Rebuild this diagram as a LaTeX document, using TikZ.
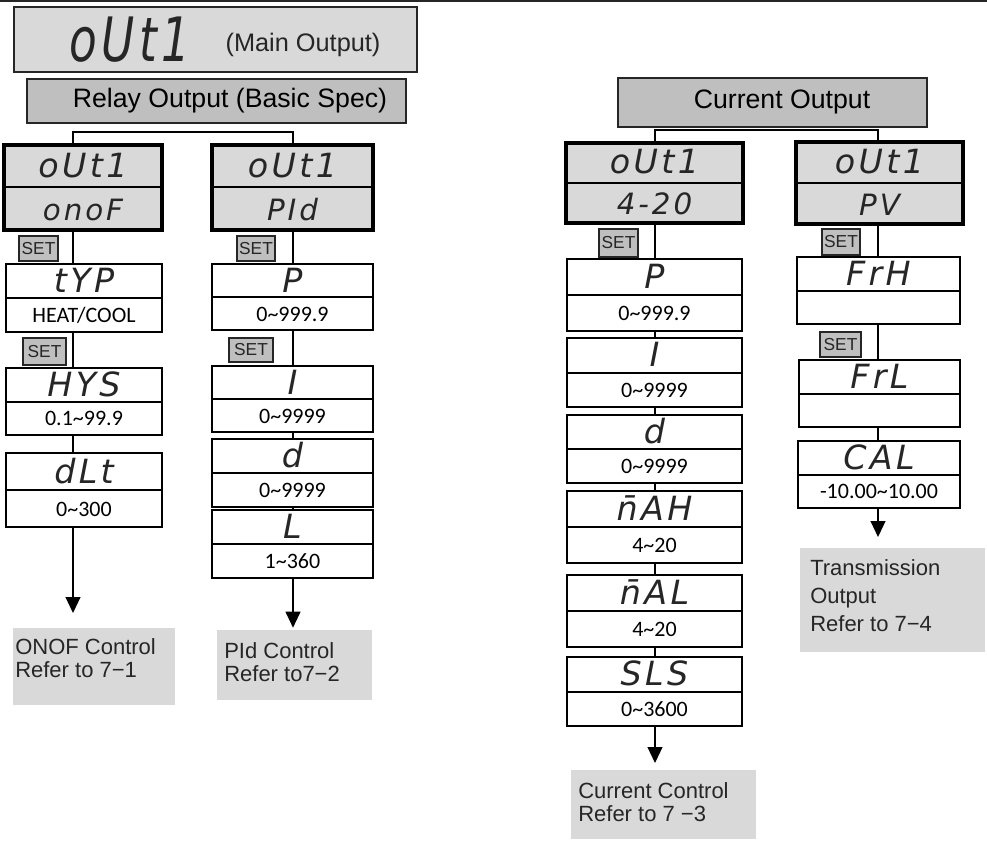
\documentclass[tikz,border=0pt]{standalone}
\usepackage{graphicx}
\usepackage{fontspec}
\setmainfont{Liberation Sans}
\newfontfamily\segfont[LetterSpace=10]{DejaVu Sans}
\newfontfamily\rngfont{Carlito}
\usetikzlibrary{arrows.meta,calc,fit}
\definecolor{panel}{HTML}{D9D9D9}
\definecolor{header}{HTML}{BFBFBF}
\definecolor{ink}{HTML}{262626}
\tikzset{
  link/.style={line width=1.5pt,black},
  flow/.style={link,-{Triangle[length=12pt,width=11pt]}},
  dispbox/.style={draw=black,line width=3pt,fill=panel,inner sep=0pt},
  parbox/.style={draw=black,line width=1.5pt,fill=white,inner sep=0pt},
  headbox/.style={draw=ink,line width=1.5pt,fill=header,inner sep=0pt},
  setkey/.style={draw=ink,line width=1.5pt,fill=header,inner sep=0pt},
  settxt/.style={inner sep=0pt,text=ink,font=\fontsize{13}{14}\selectfont},
  seg/.style={inner sep=0pt,text=ink,font=\segfont\itshape\fontsize{25}{27}\selectfont},
  seglow/.style={seg,font=\segfont\itshape\fontsize{22}{24}\selectfont},
  rangetxt/.style={inner sep=0pt,font=\rngfont\fontsize{16.5}{18}\selectfont},
  notebox/.style={fill=panel,inner sep=0pt},
  notetext/.style={inner sep=0pt,text=ink,align=left,anchor=north west,
    font=\fontsize{16.5}{17.5}\selectfont}
}
\begin{document}
\begin{tikzpicture}[x=0.75pt,y=-0.75pt]
\useasboundingbox (0,0) rectangle (987,852);
\draw[ink,line width=1.5pt] (0,1) -- (987,1);
% title and headers
\node[draw=ink,line width=2pt,fill=panel,inner sep=0pt,fit={(14,7) (417,72)}] (main) {};
\node[seg] (mainseg) at (130,40) {\scalebox{1}[1.35]{\fontsize{34}{36}\selectfont oUt1}};
\node[text=ink,font=\fontsize{19}{21}\selectfont] (maintxt) at (303,45) {(Main Output)};
\node[headbox,fit={(27,79) (406,123)}] (relay) {};
\node[font=\fontsize{20}{22}\selectfont] (relaytxt) at (230,101) {Relay Output (Basic Spec)};
\node[headbox,fit={(618,78) (927,127)}] (current) {};
\node[font=\fontsize{20}{22}\selectfont] (currenttxt) at (782,102) {Current Output};
% displays
\foreach \nm/\xa/\ya/\xb/\yb/\lo in {oof/4/145/162/230/onoF, pid/212/145/373/230/PId,
    cur/566/143/743/223/4-20, pv/796/142/963/224/PV}{
  \node[dispbox,fit={(\xa,\ya) (\xb,\yb)}] (\nm) {};
  \draw[line width=1.5pt] (\nm.west) -- (\nm.east);
  \node[seg] (\nm-up) at ($(\nm.center)!.5!(\nm.north)$) {oUt1};
  \node[seglow] (\nm-lo) at ($(\nm.center)!.5!(\nm.south)$) {\lo};
}
% parameters
\foreach \nm/\xa/\ya/\xb/\yb/\up/\lo in {
    typ/6/264/162/332/tYP/{HEAT/COOL}, hys/6/368/162/435/HYS/0.1\textasciitilde99.9,
    dlt/6/453/162/527/dLt/0\textasciitilde300,
    p1/212/264/373/330/P/0\textasciitilde999.9, i1/212/366/373/432/I/0\textasciitilde9999,
    d1/212/439/373/507/d/0\textasciitilde9999, l1/212/510/373/578/L/1\textasciitilde360,
    p2/567/259/742/331/P/0\textasciitilde999.9, i2/567/338/742/407/I/0\textasciitilde9999,
    d2/567/415/742/483/d/0\textasciitilde9999, mah/567/491/742/563/\=nAH/4\textasciitilde20,
    mal/567/575/742/647/\=nAL/4\textasciitilde20, sls/567/657/742/726/SLS/0\textasciitilde3600,
    frh/797/257/960/324/FrH/{}, frl/799/360/960/427/FrL/{},
    cal/798/441/960/508/CAL/-10.00\textasciitilde10.00}{
  \node[parbox,fit={(\xa,\ya) (\xb,\yb)}] (\nm) {};
  \draw[line width=1.5pt] (\nm.west) -- (\nm.east);
  \node[seg] (\nm-up) at ($(\nm.center)!.5!(\nm.north)$) {\up};
  \node[rangetxt] (\nm-lo) at ($(\nm.center)!.5!(\nm.south)$) {\lo};
}
% SET keys
\foreach \nm/\xa/\ya/\xb/\yb in {set1/19/236/58/261, set2/23/338/66/365, set3/237/236/275/261,
    set4/229/338/273/362, set5/599/229/638/257, set6/822/229/860/255, set7/820/332/861/357}{
  \node[setkey,fit={(\xa,\ya) (\xb,\yb)}] (\nm) {};
  \node[settxt] (\nm-t) at (\nm.center) {SET};
}
% notes
\node[notebox,fit={(13,628) (175,705)}] (n1) {};
\node[notetext] (n1t) at (15,638) {ONOF Control\\Refer to 7−1};
\node[notebox,fit={(217,630) (372,700)}] (n2) {};
\node[notetext] (n2t) at (224,642) {PId Control\\Refer to7−2};
\node[notebox,fit={(571,770) (756,839)}] (n3) {};
\node[notetext] (n3t) at (578,782) {Current Control\\Refer to 7 −3};
\node[notebox,fit={(800,548) (985,652)}] (n4) {};
\node[notetext,font=\fontsize{16.5}{21}\selectfont] (n4t) at (810,559) {Transmission\\Output\\Refer to 7−4};
% connectors
\coordinate (lc) at (73,0);
\coordinate (pc) at (293,0);
\coordinate (cc) at (655,0);
\coordinate (vc) at (878,0);
\draw[link] (lc |- oof.north) -- ++(0,-11) -| (pc |- pid.north);
\draw[link] (cc |- cur.north) -- ++(0,-11) -| (vc |- pv.north);
\foreach \a/\b in {oof/typ, typ/hys, hys/dlt}
  \draw[link] (lc |- \a.south) -- (lc |- \b.north);
\foreach \a/\b in {pid/p1, p1/i1, i1/d1, d1/l1}
  \draw[link] (pc |- \a.south) -- (pc |- \b.north);
\foreach \a/\b in {cur/p2, p2/i2, i2/d2, d2/mah, mah/mal, mal/sls}
  \draw[link] (cc |- \a.south) -- (cc |- \b.north);
\foreach \a/\b in {pv/frh, frh/frl, frl/cal}
  \draw[link] (vc |- \a.south) -- (vc |- \b.north);
\draw[flow,shorten >=11pt] (lc |- dlt.south) -- (lc |- n1.north);
\draw[flow,shorten >=1.5pt] (pc |- l1.south) -- (pc |- n2.north);
\draw[flow,shorten >=5pt] (cc |- sls.south) -- (cc |- n3.north);
\draw[flow,shorten >=8pt] (vc |- cal.south) -- (vc |- n4.north);
\end{tikzpicture}
\end{document}
